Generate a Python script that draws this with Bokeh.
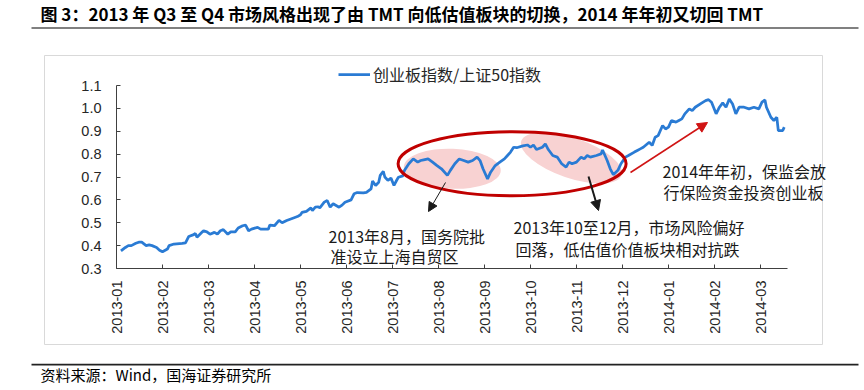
import calendar
import math

from bokeh.plotting import figure
from bokeh.models import (ColumnDataSource, FixedTicker, Range1d, Label, Arrow, NormalHead,
                          Legend, LegendItem, NumeralTickFormatter, BoxAnnotation)
from bokeh.embed import file_html
from bokeh.resources import INLINE

# ---------------- data ----------------
dates = [
    "2013-01-04", "2013-01-07", "2013-01-09", "2013-01-11", "2013-01-14", "2013-01-16", "2013-01-18",
    "2013-01-21", "2013-01-23", "2013-01-25", "2013-01-28", "2013-01-30", "2013-02-01", "2013-02-04",
    "2013-02-05", "2013-02-08", "2013-02-13", "2013-02-15", "2013-02-17", "2013-02-20", "2013-02-21",
    "2013-02-22", "2013-02-25", "2013-02-26", "2013-02-28", "2013-03-02", "2013-03-05", "2013-03-07",
    "2013-03-09", "2013-03-11", "2013-03-14", "2013-03-16", "2013-03-19", "2013-03-21", "2013-03-24",
    "2013-03-26", "2013-03-28", "2013-03-30", "2013-04-03", "2013-04-05", "2013-04-08", "2013-04-10",
    "2013-04-11", "2013-04-14", "2013-04-17", "2013-04-19", "2013-04-22", "2013-04-26", "2013-04-29",
    "2013-05-01", "2013-05-02", "2013-05-05", "2013-05-08", "2013-05-09", "2013-05-11", "2013-05-13",
    "2013-05-14", "2013-05-17", "2013-05-19", "2013-05-21", "2013-05-23", "2013-05-27", "2013-05-29",
    "2013-05-31", "2013-06-04", "2013-06-06", "2013-06-08", "2013-06-12", "2013-06-14", "2013-06-17",
    "2013-06-18", "2013-06-20", "2013-06-22", "2013-06-23", "2013-06-25", "2013-06-26", "2013-06-28",
    "2013-06-30", "2013-07-02", "2013-07-04", "2013-07-05", "2013-07-08", "2013-07-09", "2013-07-12",
    "2013-07-15", "2013-07-18", "2013-07-20", "2013-07-22", "2013-07-25", "2013-07-28", "2013-07-31",
    "2013-08-03", "2013-08-07", "2013-08-09", "2013-08-12", "2013-08-15", "2013-08-18", "2013-08-21",
    "2013-08-24", "2013-08-27", "2013-08-29", "2013-08-31", "2013-09-03", "2013-09-05", "2013-09-08",
    "2013-09-11", "2013-09-14", "2013-09-16", "2013-09-18", "2013-09-20", "2013-09-22", "2013-09-26",
    "2013-09-29", "2013-10-01", "2013-10-03", "2013-10-05", "2013-10-09", "2013-10-11", "2013-10-13",
    "2013-10-16", "2013-10-19", "2013-10-22", "2013-10-25", "2013-10-27", "2013-10-29", "2013-11-01",
    "2013-11-04", "2013-11-06", "2013-11-08", "2013-11-10", "2013-11-14", "2013-11-17", "2013-11-18",
    "2013-11-21", "2013-11-23", "2013-11-25", "2013-11-28", "2013-11-30", "2013-12-03", "2013-12-05",
    "2013-12-09", "2013-12-11", "2013-12-13", "2013-12-15", "2013-12-19", "2013-12-21", "2013-12-23",
    "2013-12-25", "2013-12-28", "2013-12-30", "2014-01-01", "2014-01-03", "2014-01-06", "2014-01-08",
    "2014-01-10", "2014-01-12", "2014-01-15", "2014-01-17", "2014-01-19", "2014-01-23", "2014-01-26",
    "2014-01-28", "2014-01-30", "2014-02-02", "2014-02-04", "2014-02-06", "2014-02-08", "2014-02-10",
    "2014-02-12", "2014-02-14", "2014-02-16", "2014-02-19", "2014-02-22", "2014-02-25", "2014-02-28",
    "2014-03-02", "2014-03-04", "2014-03-05", "2014-03-08", "2014-03-10", "2014-03-12", "2014-03-13",
    "2014-03-16", "2014-03-17",
]
ratio = [
    0.377, 0.392, 0.400, 0.400, 0.410, 0.415, 0.415,
    0.400, 0.403, 0.400, 0.392, 0.380, 0.373, 0.385,
    0.400, 0.407, 0.410, 0.412, 0.440, 0.448, 0.453,
    0.437, 0.458, 0.465, 0.460, 0.450, 0.458, 0.450,
    0.465, 0.470, 0.450, 0.460, 0.460, 0.477, 0.487,
    0.490, 0.465, 0.472, 0.480, 0.472, 0.472, 0.472,
    0.490, 0.487, 0.510, 0.500, 0.510, 0.520, 0.527,
    0.535, 0.545, 0.550, 0.565, 0.553, 0.568, 0.570,
    0.565, 0.590, 0.597, 0.568, 0.583, 0.568, 0.577,
    0.590, 0.600, 0.627, 0.632, 0.631, 0.633, 0.648,
    0.682, 0.663, 0.677, 0.707, 0.725, 0.700, 0.685,
    0.695, 0.663, 0.688, 0.699, 0.705, 0.728, 0.758,
    0.779, 0.765, 0.772, 0.775, 0.779, 0.765, 0.750,
    0.736, 0.707, 0.729, 0.758, 0.779, 0.772, 0.765,
    0.772, 0.787, 0.772, 0.736, 0.692, 0.721, 0.750,
    0.765, 0.779, 0.794, 0.809, 0.830, 0.828, 0.836,
    0.840, 0.830, 0.840, 0.820, 0.830, 0.845, 0.820,
    0.794, 0.787, 0.758, 0.743, 0.765, 0.758, 0.765,
    0.787, 0.779, 0.794, 0.787, 0.794, 0.801, 0.818,
    0.772, 0.736, 0.710, 0.729, 0.758, 0.787, 0.794,
    0.809, 0.816, 0.823, 0.830, 0.852, 0.838, 0.874,
    0.881, 0.925, 0.910, 0.918, 0.947, 0.940, 0.947,
    0.954, 0.976, 0.998, 0.990, 1.005, 1.022, 1.034,
    1.038, 1.027, 0.976, 1.005, 1.024, 1.005, 1.041,
    1.019, 0.976, 1.005, 1.005, 0.998, 1.005, 0.998,
    1.027, 1.037, 1.005, 0.961, 0.947, 0.961, 0.903,
    0.903, 0.918,
]
tick_labels = ["2013-01", "2013-02", "2013-03", "2013-04", "2013-05", "2013-06", "2013-07",
               "2013-08", "2013-09", "2013-10", "2013-11", "2013-12", "2014-01", "2014-02", "2014-03"]
y_ticks = [0.3, 0.4, 0.5, 0.6, 0.7, 0.8, 0.9, 1.0, 1.1]
y_bounds = (0.3, 1.1)
x_end = 14.59  # axis ends mid-March 2014
series_name = "创业板指数/上证50指数"
title_text = "图 3：2013 年 Q3 至 Q4 市场风格出现了由 TMT 向低估值板块的切换，2014 年年初又切回 TMT"
source_text = "资料来源：Wind，国海证券研究所"
note1 = ["2013年8月，国务院批", "准设立上海自贸区"]
note2 = ["2013年10至12月，市场风险偏好", "回落，低估值价值板块相对抗跌"]
note3 = ["2014年年初，保监会放", "行保险资金投资创业板"]


def month_pos(s):
    y, mo, d = map(int, s.split("-"))
    return (y - 2013) * 12 + (mo - 1) + (d - 1) / calendar.monthrange(y, mo)[1]


src = ColumnDataSource(dict(t=[month_pos(s) for s in dates], v=ratio, date=dates))

# ---------------- layout (pixels) ----------------
W, H = 860, 386
AX_LEFT, AX_BOTTOM = 116, 268       # where the axes sit on the canvas
PX_MONTH = 46.0                     # pixels per month
PX_UNIT = (268 - 85) / (y_bounds[1] - y_bounds[0])  # pixels per 1.0 of ratio

x_range = Range1d(-AX_LEFT / PX_MONTH, (W - AX_LEFT) / PX_MONTH)
y_range = Range1d(y_bounds[0] - (H - AX_BOTTOM) / PX_UNIT, y_bounds[0] + AX_BOTTOM / PX_UNIT)

CJK = "Noto Sans CJK SC"
BLUE = "#2A7BD4"
TXT = "#1a1a1a"


def sx(X):
    return X


def sy(Y):
    return H - Y


p = figure(width=W, height=H, output_backend="svg", toolbar_location=None, title=None,
           x_range=x_range, y_range=y_range,
           min_border=0, min_border_left=0, min_border_right=0, min_border_top=0, min_border_bottom=0,
           background_fill_color="white", border_fill_color="white")
p.grid.visible = False
p.outline_line_color = None

# axes, pinned inside the canvas
p.xaxis.fixed_location = y_bounds[0]
p.xaxis.bounds = (0, x_end)
p.yaxis.fixed_location = 0
p.yaxis.bounds = y_bounds
p.xaxis.ticker = FixedTicker(ticks=list(range(len(tick_labels))))
p.xaxis.major_label_overrides = {i: lab for i, lab in enumerate(tick_labels)}
p.xaxis.major_label_orientation = math.pi / 2
p.xaxis.major_label_standoff = 12
p.yaxis.ticker = FixedTicker(ticks=y_ticks)
p.yaxis.formatter = NumeralTickFormatter(format="0.0")
p.yaxis.major_label_standoff = 15
for ax in (p.xaxis[0], p.yaxis[0]):
    ax.major_tick_in = 4
    ax.major_tick_out = 0
    ax.minor_tick_line_color = None
    ax.axis_line_color = "#404040"
    ax.major_tick_line_color = "#404040"
    ax.major_label_text_font = "Liberation Sans"
    ax.major_label_text_font_size = "14.5px"
    ax.major_label_text_color = "#262626"

# chart-area frame, title rule, footer rule
p.add_layout(BoxAnnotation(left=sx(44), right=sx(822), top=sy(55), bottom=sy(344),
                           left_units="screen", right_units="screen", top_units="screen", bottom_units="screen",
                           fill_color=None, fill_alpha=0, line_color="#D9D9D9", line_alpha=1, line_width=1,
                           level="underlay"))
p.add_layout(BoxAnnotation(left=sx(31), right=sx(858), top=sy(26.5), bottom=sy(28.5),
                           left_units="screen", right_units="screen", top_units="screen", bottom_units="screen",
                           fill_color="#808080", fill_alpha=1, line_color=None))
p.add_layout(BoxAnnotation(left=sx(31), right=sx(858), top=sy(363.3), bottom=sy(365),
                           left_units="screen", right_units="screen", top_units="screen", bottom_units="screen",
                           fill_color="#222222", fill_alpha=1, line_color=None))

# highlight ellipses (behind the line)
p.ellipse(x=[7.30], y=[0.736], width=97, height=40, angle=-0.04,
          width_units="screen", height_units="screen",
          fill_color="#F8D2D2", line_color=None)
p.ellipse(x=[9.89], y=[0.783], width=106, height=40, angle=-0.33,
          width_units="screen", height_units="screen",
          fill_color="#F8D2D2", line_color=None)

r = p.line("t", "v", source=src, line_width=2.75, line_color=BLUE)

p.ellipse(x=[8.60], y=[0.758], width=228, height=64,
          width_units="screen", height_units="screen",
          fill_color=None, line_color="#C00000", line_width=3)


def add_arrow(X0, Y0, X1, Y1, color, width, size):
    p.add_layout(Arrow(start_units="screen", end_units="screen",
                       x_start=sx(X0), y_start=sy(Y0), x_end=sx(X1), y_end=sy(Y1),
                       line_width=width, line_color=color,
                       end=NormalHead(size=size, fill_color=color, line_color=color)))


add_arrow(445, 182, 428, 211, TXT, 1, 9)
add_arrow(588, 176, 598, 210, TXT, 2, 10)
add_arrow(630, 172, 707, 122, "#D01414", 1.5, 10)


def add_label(X, Y, text, size="16px", bold=False, color=TXT):
    p.add_layout(Label(x=sx(X), y=sy(Y), x_units="screen", y_units="screen", text=text,
                       text_font=CJK, text_font_size=size, text_align="left",
                       text_baseline="middle", text_color=color,
                       text_font_style="bold" if bold else "normal"))


add_label(328, 235, note1[0])
add_label(330, 255, note1[1])
add_label(513, 226, note2[0])
add_label(515, 248, note2[1])
add_label(662, 170, note3[0])
add_label(663, 191, note3[1])

add_label(40, 13, title_text, size="17px", bold=True, color="#000000")
add_label(40, 374, source_text, size="15px", color="#000000")

# legend
legend = Legend(items=[LegendItem(label=series_name, renderers=[r])], location=(sx(338), sy(86)),
                padding=0, margin=0, spacing=0, border_line_color=None, background_fill_alpha=0,
                glyph_width=32, glyph_height=20, label_height=20, label_standoff=3,
                label_text_font=CJK, label_text_font_size="16px", label_text_color="#262626")
p.add_layout(legend)

open("out.html", "w").write(file_html(p, INLINE))
